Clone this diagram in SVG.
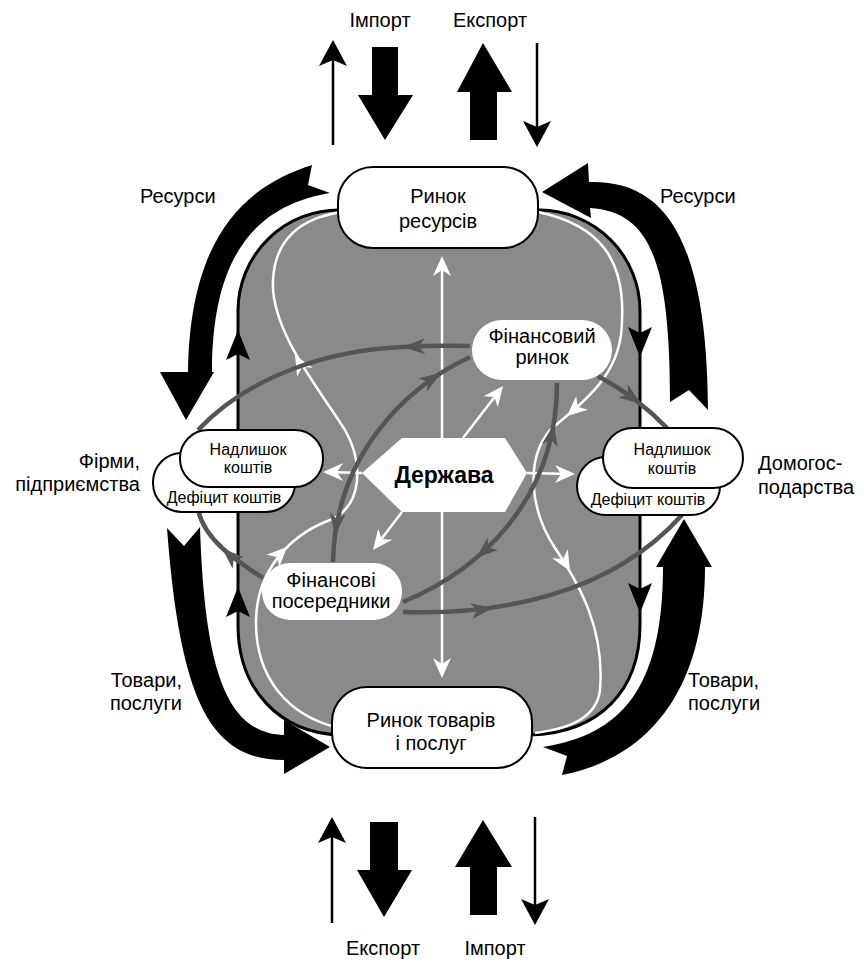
<svg xmlns="http://www.w3.org/2000/svg" width="864" height="966" viewBox="0 0 864 966">
<style>
.t{font-family:"Liberation Sans",Arial,Helvetica,sans-serif;font-size:20px;fill:#000}
.m{text-anchor:middle}
.e{text-anchor:end}
.s{font-size:16px}
.b{font-weight:bold;font-size:23px}
.dk{fill:none;stroke:#555;stroke-width:4.5}
.wl{fill:none;stroke:#fff;stroke-width:2.5}
.pill{fill:#fff;stroke:#000;stroke-width:2}
.pw{fill:#fff}
.blk{fill:#000}
</style>
<defs>
<path id="dh" d="M0,0 L-22,-8 L-16,0 L-22,8 Z" fill="#555"/>
<path id="wh" d="M0,0 L-20,-9 L-14,0 L-20,9 Z" fill="#fff"/>
<path id="bh" d="M0,0 L-30,-12 L-24,0 L-30,12 Z" fill="#000"/>
<path id="th" d="M0,0 L-26,-14 L-20,0 L-26,14 Z" fill="#000"/>
</defs>
<rect width="864" height="966" fill="#fff"/>
<!-- gray economy region -->
<g id="region">
<path d="M340,210 A101,101 0 0 0 238,310 L238,625 C238,690 280,733 340,735 L530,735 C600,733 640,690 640,625 L640,310 A101,101 0 0 0 540,210 Z" fill="#8a8a8a" stroke="#000" stroke-width="3"/>
</g>
<g id="connectors">
<!-- outline flow heads -->
<use href="#bh" transform="translate(238,330) rotate(-90)"/>
<use href="#bh" transform="translate(238,587) rotate(-90)"/>
<use href="#bh" transform="translate(640,357) rotate(90)"/>
<use href="#bh" transform="translate(640,613) rotate(90)"/>
<!-- white S curves -->
<path class="wl" d="M335,727 C290,715 255,680 256,620 C257,570 290,535 330,520 C365,505 362,460 345,430 C320,390 270,330 273,280 C275,240 300,218 342,212"/>
<use href="#wh" transform="translate(287,547) rotate(-45)"/>
<use href="#wh" transform="translate(295,355) rotate(-120)"/>
<path class="wl" d="M538,212 C600,225 625,260 622,320 C622,375 585,400 550,430 C525,460 530,510 555,548 C580,585 605,630 600,690 C597,715 575,728 535,733"/>
<use href="#wh" transform="translate(567,416) rotate(139)"/>
<use href="#wh" transform="translate(570,571) rotate(60)"/>
<!-- white arrows from state -->
<path class="wl" d="M442,674 L442,260"/>
<use href="#wh" transform="translate(442,256) rotate(-90)"/>
<use href="#wh" transform="translate(442,678) rotate(90)"/>
<path class="wl" d="M362,473 L327,472"/>
<use href="#wh" transform="translate(323,472) rotate(180)"/>
<path class="wl" d="M527,473 L571,474"/>
<use href="#wh" transform="translate(575,474)"/>
<path class="wl" d="M463,438 L500,390"/>
<use href="#wh" transform="translate(503,386) rotate(-52)"/>
<path class="wl" d="M402,512 L376,546"/>
<use href="#wh" transform="translate(373,550) rotate(128)"/>
<!-- dark financial flows -->
<path class="dk" d="M470,346 C440,345 420,346 403,347 C330,350 250,375 198,430"/>
<use href="#dh" transform="translate(403,347) rotate(178)"/>
<path class="dk" d="M470,357 C400,390 335,460 333,562"/>
<use href="#dh" transform="translate(441,373) rotate(-33)"/>
<use href="#dh" transform="translate(335,535) rotate(97)"/>
<path class="dk" d="M403,602 C480,570 557,500 557,383"/>
<use href="#dh" transform="translate(476,558) rotate(140)"/>
<use href="#dh" transform="translate(554,424) rotate(-79)"/>
<path class="dk" d="M403,612 C500,615 610,595 682,515"/>
<use href="#dh" transform="translate(493,608) rotate(-8)"/>
<path class="dk" d="M263,578 C235,560 205,540 198,510"/>
<use href="#dh" transform="translate(222,548) rotate(-137)"/>
<path class="dk" d="M598,376 C620,388 645,405 667,428"/>
<use href="#dh" transform="translate(641,404) rotate(36)"/>
<!-- big black flows -->
<path class="blk" d="M312,165 C250,185 190,230 188,372 L160,372 L186,420 L214,372 L212,372 C212,250 260,205 330,193 L308,185 Z"/>
<path class="blk" d="M542,192 L588,163 L589,182 C660,180 707,230 708,410 L689,390 L670,402 C670,260 650,212 590,208 L591,218 Z"/>
<path class="blk" d="M167,528 L184,546 L200,527 C205,680 230,733 284,735 L284,720 L330,747 L284,774 L284,760 C210,760 180,700 167,528 Z"/>
<path class="blk" d="M543,747 C620,735 663,690 663,567 L656,567 L684,519 L712,567 L705,567 C705,700 640,760 562,775 L567,756 Z"/>
<!-- import / export top -->
<path d="M333,145 L333,58" stroke="#000" stroke-width="2.5"/>
<use href="#th" transform="translate(333,40) rotate(-90)"/>
<path class="blk" d="M372,47 L398,47 L398,95 L413,95 L385,140 L358,95 L372,95 Z"/>
<path class="blk" d="M483,43 L512,92 L497,92 L497,140 L470,140 L470,92 L457,92 Z"/>
<path d="M537,43 L537,130" stroke="#000" stroke-width="2.5"/>
<use href="#th" transform="translate(537,147) rotate(90)"/>
<!-- import / export bottom -->
<path d="M332,923 L332,835" stroke="#000" stroke-width="2.5"/>
<use href="#th" transform="translate(332,817) rotate(-90)"/>
<path class="blk" d="M370,822 L398,822 L398,870 L412,870 L384,917 L357,870 L370,870 Z"/>
<path class="blk" d="M483,820 L512,867 L497,867 L497,915 L470,915 L470,867 L455,867 Z"/>
<path d="M535,817 L535,908" stroke="#000" stroke-width="2.5"/>
<use href="#th" transform="translate(535,925) rotate(90)"/>
</g>
<!-- nodes -->
<g id="resource-market">
<rect class="pill" x="338" y="167" width="200" height="81" rx="35"/>
<text class="t m" x="438" y="203">Ринок</text>
<text class="t m" x="438" y="228">ресурсів</text>
</g>
<g id="goods-market">
<rect class="pill" x="332" y="687" width="200" height="81" rx="35"/>
<text class="t m" x="431" y="727">Ринок товарів</text>
<text class="t m" x="431" y="750">і послуг</text>
</g>
<g id="financial-market">
<rect class="pw" x="472" y="320" width="140" height="60" rx="30"/>
<text class="t m" x="542" y="343">Фінансовий</text>
<text class="t m" x="542" y="364">ринок</text>
</g>
<g id="intermediaries">
<rect class="pw" x="262" y="563" width="140" height="57" rx="28"/>
<text class="t m" x="331" y="587">Фінансові</text>
<text class="t m" x="331" y="608">посередники</text>
</g>
<g id="state">
<polygon class="pw" points="362,473 402,438 505,438 527,473 505,512 402,512"/>
<text class="t m b" x="444" y="483">Держава</text>
</g>
<g id="firms-funds">
<rect class="pill" x="153" y="453" width="142" height="59" rx="29"/>
<text class="t m s" x="224" y="503">Дефіцит коштів</text>
<rect class="pill" x="180" y="430" width="143" height="57" rx="28"/>
<text class="t m s" x="248" y="455">Надлишок</text>
<text class="t m s" x="248" y="473">коштів</text>
</g>
<g id="households-funds">
<rect class="pill" x="577" y="457" width="143" height="58" rx="29"/>
<text class="t m s" x="648" y="505">Дефіцит коштів</text>
<rect class="pill" x="603" y="428" width="140" height="60" rx="30"/>
<text class="t m s" x="672" y="455">Надлишок</text>
<text class="t m s" x="672" y="474">коштів</text>
</g>
<!-- labels -->
<g id="labels">
<text class="t m" x="380" y="27">Імпорт</text>
<text class="t m" x="490" y="27">Експорт</text>
<text class="t" x="140" y="203">Ресурси</text>
<text class="t" x="660" y="203">Ресурси</text>
<text class="t e" x="140" y="468">Фірми,</text>
<text class="t e" x="140" y="491">підприємства</text>
<text class="t" x="758" y="470">Домогос-</text>
<text class="t" x="758" y="494">подарства</text>
<text class="t e" x="182" y="687">Товари,</text>
<text class="t e" x="182" y="710">послуги</text>
<text class="t" x="688" y="687">Товари,</text>
<text class="t" x="688" y="710">послуги</text>
<text class="t m" x="383" y="955">Експорт</text>
<text class="t m" x="495" y="955">Імпорт</text>
</g>
</svg>
